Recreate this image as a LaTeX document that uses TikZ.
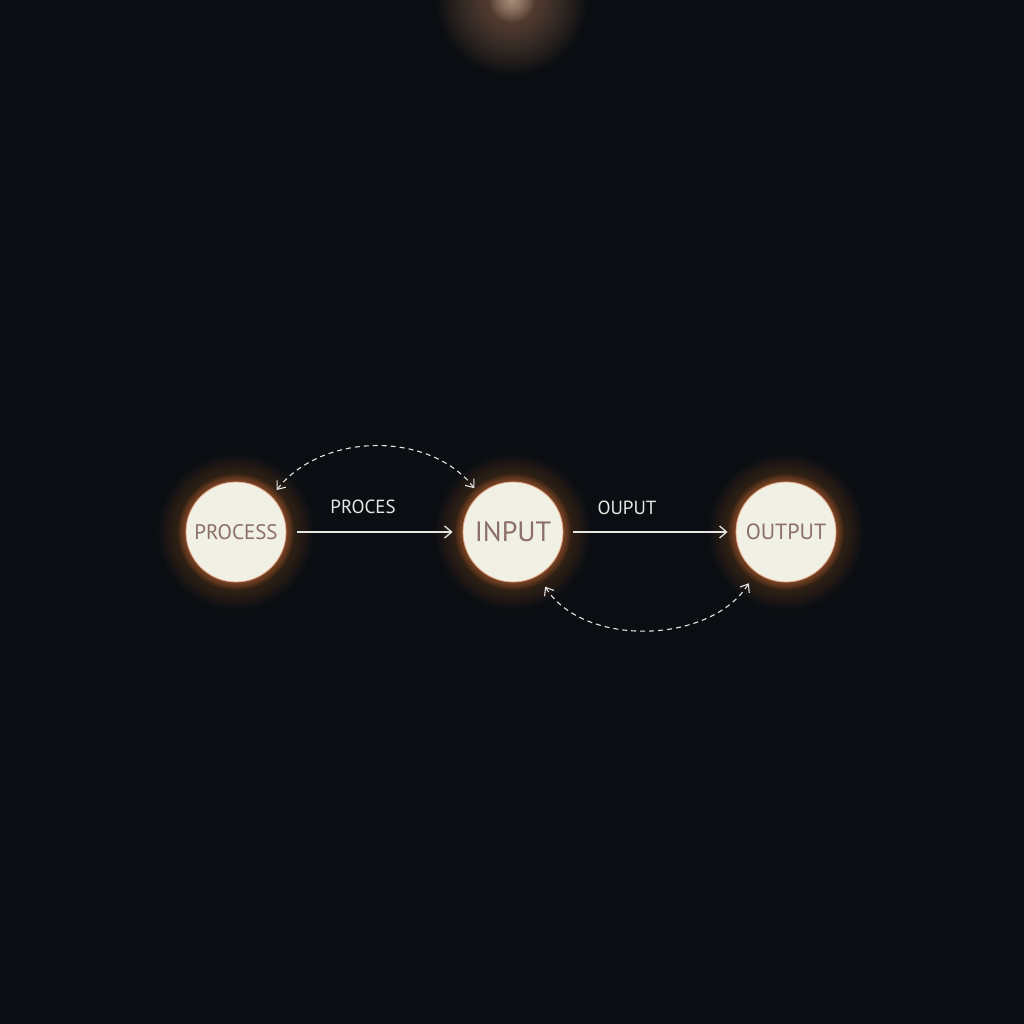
\documentclass[tikz,border=0pt]{standalone}
\usepackage{fontspec}
\setmainfont{PT Sans}
\usetikzlibrary{arrows.meta}
\definecolor{bg}{HTML}{0A0D11}
\definecolor{cream}{HTML}{F1F0E4}
\definecolor{ink}{HTML}{8B6F68}
\definecolor{glow}{HTML}{C8703E}
\definecolor{rim}{HTML}{E0A888}
\definecolor{wire}{HTML}{E6E6E2}
\tikzset{
  bubble/.style={circle, fill=cream, draw=rim, line width=0.8pt, minimum size=100pt, inner sep=0pt, text=ink},
  flow/.style={draw=wire, line width=1.4pt, -{Straight Barb[length=7pt,width=12pt,line width=1.3pt]}},
  loop/.style={draw=wire, line width=1.1pt, dash pattern=on 5pt off 4pt, {Straight Barb[length=7pt,width=11pt,line width=1.1pt]}-{Straight Barb[length=7pt,width=11pt,line width=1.1pt]}},
  lbl/.style={text=wire, font=\fontsize{19}{19}\selectfont}
}
\begin{document}
\begin{tikzpicture}[x=1pt,y=1pt]
\useasboundingbox (0,0) rectangle (1024,1024);
\fill[bg] (0,0) rectangle (1024,1024);
% top glow
\foreach \r in {3,6,...,75} {
  \fill[glow!70!cream, opacity=0.028] (512,1024) circle (\r);
}
\foreach \r in {2,4,...,22} {
  \fill[cream!80!glow, opacity=0.06] (512,1024) circle (\r);
}
% halos
\foreach \cx in {236,513,786} {
  \foreach \r in {52,54,...,78} {
    \fill[glow, opacity=0.025] (\cx,492) circle (\r);
  }
  \foreach \r in {51,52,...,58} {
    \fill[glow, opacity=0.07] (\cx,492) circle (\r);
  }
}
\node[bubble, font=\fontsize{21}{21}\selectfont] (p) at (236,492) {PROCESS};
\node[bubble, font=\fontsize{28}{28}\selectfont] (i) at (513,492) {INPUT};
\node[bubble, font=\fontsize{22}{22}\selectfont] (o) at (786,492) {OUTPUT};
\draw[flow, shorten <=11pt, shorten >=10pt] (p.east) -- (i.west);
\draw[flow, shorten <=10pt, shorten >=8pt] (i.east) -- (o.west);
\node[lbl] (l1) at (363,517) {PROCES};
\node[lbl] (l2) at (627,516) {OUPUT};
\draw[loop, shorten <=8pt, shorten >=8pt] (p.45) to[out=52,in=128] (i.132);
\draw[loop, shorten <=13pt, shorten >=13pt] (i.-60) to[out=-58,in=-122] (o.-127);
\end{tikzpicture}
\end{document}
